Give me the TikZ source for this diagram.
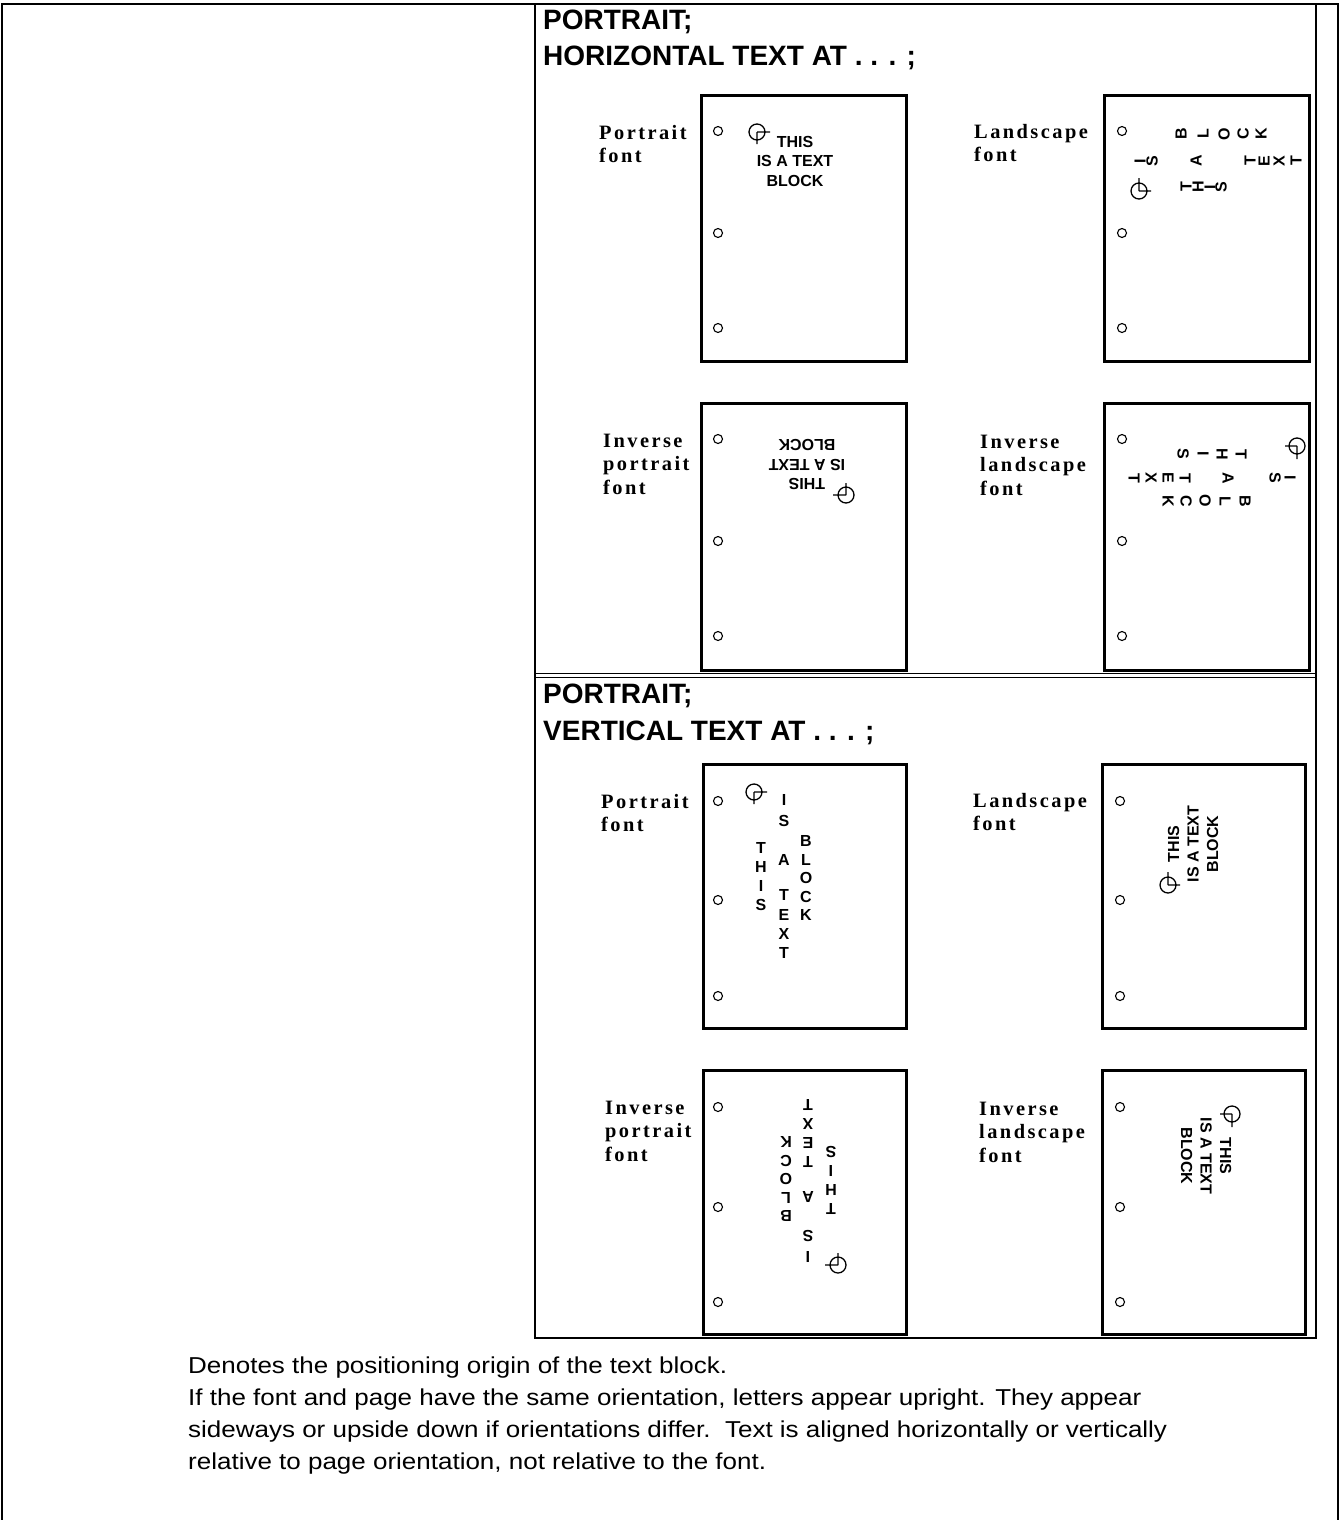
\documentclass[tikz,border=0pt]{standalone}
\usepackage{fontspec}
\setmainfont{Liberation Sans}
\newfontfamily\labelfont[LetterSpace=12]{Liberation Serif}
\newfontfamily\bodyfont[FakeStretch=1.13]{Liberation Sans}
\begin{document}
\begin{tikzpicture}[x=1pt,y=-1pt,
  frame/.style={line width=1.4pt},
  pagebox/.style={draw, line width=3pt},
  hole/.style={draw, line width=1.1pt, circle, minimum size=9pt, inner sep=0pt},
  origin/.style={line width=1.3pt},
  lbl/.style={anchor=base west, inner sep=0pt, font=\labelfont\bfseries\fontsize{20.4}{23.6}\selectfont},
  head/.style={anchor=base west, inner sep=0pt, font=\bfseries\fontsize{28}{36}\selectfont},
  blk/.style={align=center, inner sep=0pt, font=\bfseries\fontsize{16}{19.5}\selectfont},
  ltr/.style={inner sep=0pt, font=\bfseries\fontsize{16}{19.5}\selectfont},
  body/.style={anchor=base west, inner sep=0pt, font=\bodyfont\fontsize{23}{32}\selectfont}]
\useasboundingbox (0,0) rectangle (1340,1520);
\newcommand\originsym[2]{\begin{scope}[shift={#1}, rotate=#2]
  \draw[origin] (0,0) circle[radius=8] (0,0)--(13,0) (0,0)--(0,12);
\end{scope}}
% outer frame
\draw[frame] (2,1520) -- (2,4) -- (1338,4) -- (1338,1520);
% inner panel
\draw[frame] (535,4) rectangle (1316,1338);
\draw[line width=1pt] (535,673) -- (1316,673);
\draw[line width=1pt] (535,677) -- (1316,677);
\draw[line width=2.5pt] (535,1338) -- (1316,1338);
% headings
\node[head] (h1a) at (543,30) {PORTRAIT;};
\node[head] (h1b) at (543,66) {HORIZONTAL TEXT AT . . . ;};
\node[head] (h2a) at (543,703) {PORTRAIT;};
\node[head] (h2b) at (543,740) {VERTICAL TEXT AT . . . ;};
% page boxes
\draw[pagebox] (701,95) rectangle (906,361);
\draw[pagebox] (1104,95) rectangle (1309,361);
\draw[pagebox] (701,403) rectangle (906,670);
\draw[pagebox] (1104,403) rectangle (1309,670);
\draw[pagebox] (703,764) rectangle (906,1028);
\draw[pagebox] (1102,764) rectangle (1305,1028);
\draw[pagebox] (703,1070) rectangle (906,1334);
\draw[pagebox] (1102,1070) rectangle (1305,1334);
% holes
\foreach \x/\y [count=\i] in {718/131,718/233,718/328,1122/131,1122/233,1122/328,
  718/439,718/541,718/636,1122/439,1122/541,1122/636,
  718/801,718/900,718/996,1120/801,1120/900,1120/996,
  718/1107,718/1207,718/1302,1120/1107,1120/1207,1120/1302}
  \node[hole] (hole\i) at (\x,\y) {};
% labels
\node[lbl] (la1) at (599,139) {Portrait};
\node[lbl] (la2) at (599,162.6) {font};
\node[lbl] (lb1) at (974,138) {Landscape};
\node[lbl] (lb2) at (974,161.6) {font};
\node[lbl] (lc1) at (603,447) {Inverse};
\node[lbl] (lc2) at (603,470.6) {portrait};
\node[lbl] (lc3) at (603,494.2) {font};
\node[lbl] (ld1) at (980,448) {Inverse};
\node[lbl] (ld2) at (980,471.6) {landscape};
\node[lbl] (ld3) at (980,495.2) {font};
\node[lbl] (le1) at (601,808) {Portrait};
\node[lbl] (le2) at (601,831.6) {font};
\node[lbl] (lf1) at (973,807) {Landscape};
\node[lbl] (lf2) at (973,830.6) {font};
\node[lbl] (lg1) at (605,1114) {Inverse};
\node[lbl] (lg2) at (605,1137.6) {portrait};
\node[lbl] (lg3) at (605,1161.2) {font};
\node[lbl] (lh1) at (979,1115) {Inverse};
\node[lbl] (lh2) at (979,1138.6) {landscape};
\node[lbl] (lh3) at (979,1162.2) {font};
% A: portrait font, horizontal
\originsym{(757,132)}{0}
\node[blk] (ta) at (795,161) {THIS\\IS A TEXT\\BLOCK};
% B: landscape font, horizontal
\originsym{(1139,191)}{90}
\foreach \c/\x/\y [count=\i] in {B/1181/134,L/1203/134,O/1224/134,C/1243/134,K/1261/134,
  I/1140/161,S/1152/161,A/1196/161,T/1250/161,E/1264/161,X/1279/161,T/1296/161,
  T/1186/187,H/1198/187,I/1210/187,S/1221/187}
  \node[ltr, rotate=90] (tb\i) at (\x,\y) {\c};
% C: inverse portrait font, horizontal
\originsym{(846,495)}{180}
\node[blk, rotate=180] (tc) at (807,465) {THIS\\IS A TEXT\\BLOCK};
% D: inverse landscape font, horizontal
\originsym{(1297,446)}{270}
\foreach \c/\x/\y [count=\i] in {S/1183/454,I/1203/454,H/1222/454,T/1241/454,
  T/1134/478,X/1151/478,E/1168/478,T/1185/478,A/1228/478,S/1275/478,I/1290/478,
  K/1168/501,C/1186/501,O/1205/501,L/1225/501,B/1245/501}
  \node[ltr, rotate=270] (td\i) at (\x,\y) {\c};
% E and G: portrait font, vertical text (G inverse)
\foreach \nm/\px/\py/\r in {te/754/792/0, tg/838/1265/180}{
  \begin{scope}[shift={(\px,\py)}, rotate=\r, transform shape]
    \draw[origin] (0,0) circle[radius=8] (0,0)--(13,0) (0,0)--(0,12);
    \foreach \c/\dx/\dy [count=\i] in {I/30/8,S/30/29,A/30/68,T/30/103,E/30/122.5,X/30/141.5,T/30/160.5,
      T/7/56,H/7/75,I/7/94,S/7/113,B/52/49,L/52/67.5,O/52/86,C/52/104.5,K/52/123}
      \node[ltr] (\nm\i) at (\dx,\dy) {\c};
  \end{scope}}
% F: landscape font, vertical
\originsym{(1168,885)}{90}
\node[blk, rotate=90] (tf) at (1193,844) {THIS\\IS A TEXT\\BLOCK};
% H: inverse landscape font, vertical
\originsym{(1232,1114)}{270}
\node[blk, rotate=270] (th) at (1206,1156) {THIS\\IS A TEXT\\BLOCK};
% legend
\node[body] (n1) at (188,1373) {Denotes the positioning origin of the text block.};
\node[body] (n2) at (188,1405) {If the font and page have the same orientation, letters appear upright. They appear};
\node[body] (n3) at (188,1437) {sideways or upside down if orientations differ.\ \ Text is aligned horizontally or vertically};
\node[body] (n4) at (188,1469) {relative to page orientation, not relative to the font.};
\end{tikzpicture}
\end{document}
